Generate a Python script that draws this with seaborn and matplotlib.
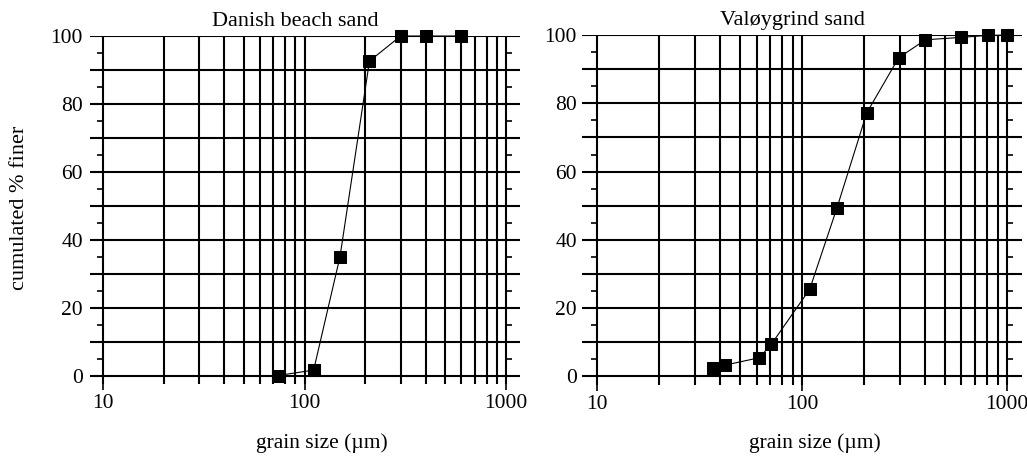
import numpy as np
import pandas as pd
import matplotlib
matplotlib.use("Agg")
import matplotlib.pyplot as plt
import seaborn as sns

# Sieve results: grain size (µm) vs cumulated % finer
danish_size = [74, 111, 150, 210, 300, 400, 600]
danish_finer = [0.0, 1.6, 35.0, 92.6, 100.0, 100.0, 100.0]

valoy_size = [37, 42, 62, 71, 109, 148, 207, 296, 400, 597, 810, 1000]
valoy_finer = [2.4, 3.3, 5.5, 9.5, 25.5, 49.3, 77.2, 93.3, 98.6, 99.3, 99.9, 100.0]

titles = ["Danish beach sand", "Valøygrind sand"]
x_label = "grain size (µm)"
y_label = "cumulated % finer"

sns.set_style("white")
plt.rcParams["font.family"] = ["Liberation Serif", "DejaVu Serif"]
plt.rcParams["text.color"] = "black"
plt.rcParams["xtick.color"] = "black"
plt.rcParams["ytick.color"] = "black"
plt.rcParams["axes.labelcolor"] = "black"

fig = plt.figure(figsize=(10.27, 4.57), dpi=100)

# axes boxes in figure fractions
W, H = 1027.0, 457.0
boxes = [
    (90 / W, (H - 384) / H, 430 / W, (384 - 36) / H),
    (582 / W, (H - 385) / H, 440 / W, (385 - 35) / H),
]
xlims = [(8.62, 1173.0), (8.45, 1184.0)]
title_x = [0.478, 0.478]
xlabel_x = [322, 815]

datasets = [
    pd.DataFrame({"size": danish_size, "finer": danish_finer}),
    pd.DataFrame({"size": valoy_size, "finer": valoy_finer}),
]

for i, df in enumerate(datasets):
    ax = fig.add_axes(boxes[i])
    ax.set_xscale("log")
    sns.lineplot(data=df, x="size", y="finer", ax=ax, color="black",
                 linewidth=0.8, marker="s", markersize=8.5,
                 markeredgecolor="black", markerfacecolor="black",
                 clip_on=False, zorder=5, sort=False)
    ax.set_xlim(*xlims[i])
    ax.set_ylim(-2.5, 100)

    # x: decades labelled, every integer multiple gridded
    ax.set_xticks([10, 100, 1000])
    ax.set_xticklabels(["10", "100", "1000"])
    minors = [m * d for d in (10, 100) for m in range(2, 10)]
    ax.set_xticks(minors, minor=True)
    ax.xaxis.set_minor_formatter(matplotlib.ticker.NullFormatter())

    # y: lines every 10, labels every 20, small marks at the fives
    ax.set_yticks(np.arange(0, 101, 10))
    ax.set_yticklabels([str(v) if v % 20 == 0 else "" for v in range(0, 101, 10)])
    ax.set_yticks(np.arange(5, 100, 10), minor=True)

    ax.grid(True, which="both", axis="x", color="black", linewidth=1.5)
    ax.grid(True, which="major", axis="y", color="black", linewidth=1.5)
    ax.set_axisbelow(True)

    # side spines sit on the 10 and 1000 lines so the y marks hug them
    ax.spines["left"].set_position(("data", 10))
    ax.spines["right"].set_position(("data", 1000))
    for s in ax.spines.values():
        s.set_color("none")

    ax.tick_params(axis="x", which="major", direction="out", length=4.5,
                   width=1.2, color="black", labelcolor="black",
                   labelsize=15.5, pad=3, bottom=True, top=False)
    ax.tick_params(axis="x", which="minor", length=0)
    ax.tick_params(axis="y", which="major", length=0, labelsize=15.5,
                   labelcolor="black", pad=14.5)
    ax.tick_params(axis="y", which="minor", direction="out", length=4.5,
                   width=1.2, color="black", left=True, right=True)

    ax.set_xlabel("")
    ax.set_ylabel("")
    ax.text(title_x[i], 1.015, titles[i], transform=ax.transAxes,
            ha="center", va="bottom", fontsize=16, color="black")

    fig.text(xlabel_x[i] / W, 1 - 443 / H, x_label, ha="center", va="center",
             fontsize=15.5, color="black")

fig.text(20 / W, 1 - 208 / H, y_label, ha="center", va="center",
         rotation=90, fontsize=16, color="black")

fig.savefig("out.png", dpi=100, facecolor="white")
